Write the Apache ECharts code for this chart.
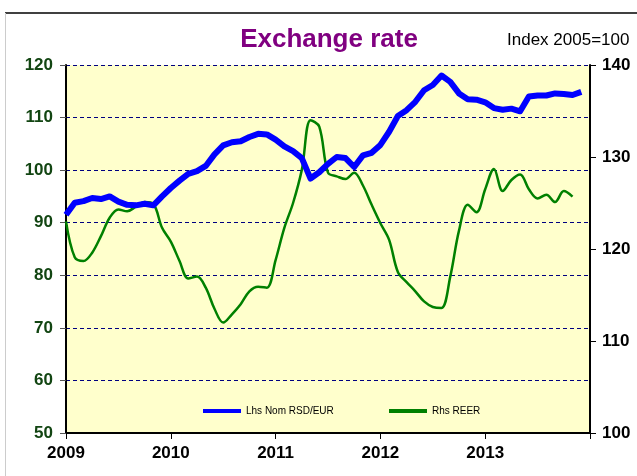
<!DOCTYPE html>
<html>
<head>
<meta charset="utf-8">
<script src="https://cdn.jsdelivr.net/npm/echarts@6/dist/echarts.min.js"></script>
<style>
html,body{margin:0;padding:0;background:#fff;}
#c{width:637px;height:476px;}
</style>
</head>
<body>
<div id="c"></div>
<script>
// Monthly observations, Jan 2009 onwards
const startYear = 2009;
const yearTicks = ['2009', '2010', '2011', '2012', '2013'];
const nomRsdEur = [91.5, 93.8, 94.1, 94.7, 94.5, 95.0, 94.0, 93.4, 93.3, 93.6, 93.3, 95.0,
  96.6, 98.0, 99.3, 99.8, 100.8, 103.0, 104.7, 105.3, 105.5, 106.3, 106.9, 106.8,
  105.8, 104.5, 103.6, 102.3, 98.4, 99.6, 101.2, 102.5, 102.3, 100.6, 102.8, 103.3,
  104.8, 107.3, 110.3, 111.4, 113.0, 115.2, 116.2, 118.0, 116.8, 114.6, 113.5, 113.4,
  112.9, 111.8, 111.5, 111.7, 111.2, 114.0, 114.2, 114.2, 114.6, 114.5, 114.3, 114.9];
const reer = [123.0, 119.1, 118.7, 119.6, 121.4, 123.4, 124.3, 124.1, 124.6, 125.1, 124.9, 122.3,
  120.8, 118.7, 116.8, 117.0, 115.8, 113.5, 112.0, 112.9, 114.0, 115.4, 115.9, 115.8,
  118.8, 122.3, 125.0, 128.6, 134.0, 133.3, 128.3, 127.9, 127.6, 128.3, 126.9, 124.8,
  122.8, 121.0, 117.5, 116.4, 115.4, 114.3, 113.7, 113.6, 117.0, 122.0, 124.8, 124.0,
  126.5, 128.7, 126.3, 127.5, 128.1, 126.5, 125.5, 125.9, 125.1, 126.3, 125.7];

const toPts = arr => arr.map((v, i) => [startYear + i / 12, v]);

const chart = echarts.init(document.getElementById('c'), null, {renderer: 'canvas'});
const font = 'Liberation Sans, Arial, sans-serif';
chart.setOption({
  animation: false,
  backgroundColor: '#ffffff',
  textStyle: {fontFamily: font},
  title: [
    {text: 'Exchange rate', left: 324, top: 22, textAlign: 'center',
     textStyle: {fontFamily: font, fontSize: 26, fontWeight: 'bold', color: '#800080'}},
    {text: 'Index 2005=100', left: 502, top: 27,
     textStyle: {fontFamily: font, fontSize: 17, fontWeight: 'normal', color: '#000'}}
  ],
  graphic: [
    {type: 'line', shape: {x1: 5, y1: 13, x2: 637, y2: 13}, style: {stroke: '#000', lineWidth: 1.5}, silent: true},
    {type: 'line', shape: {x1: 5.5, y1: 13, x2: 5.5, y2: 476}, style: {stroke: '#cccccc', lineWidth: 1}, silent: true}
  ],
  legend: [
    {data: [{name: 'Lhs Nom RSD/EUR', icon: 'rect'}], left: 198, top: 401, itemWidth: 38, itemHeight: 4, itemGap: 4,
     textStyle: {fontFamily: font, fontSize: 10, color: '#000'}, selectedMode: false},
    {data: [{name: 'Rhs REER', icon: 'rect'}], left: 384, top: 401, itemWidth: 38, itemHeight: 4, itemGap: 4,
     textStyle: {fontFamily: font, fontSize: 10, color: '#000'}, selectedMode: false}
  ],
  grid: {left: 66, right: 47, top: 65, bottom: 43, show: true, backgroundColor: '#FFFFCC', borderWidth: 0},
  xAxis: {
    type: 'value', min: 2009, max: 2014, interval: 1,
    axisLine: {lineStyle: {color: '#000', width: 2}},
    axisTick: {show: true, length: 6, lineStyle: {color: '#000', width: 1}},
    axisLabel: {margin: 12, fontSize: 17, fontWeight: 'bold', color: '#000', fontFamily: font,
      formatter: v => { const s = String(Math.round(v)); return yearTicks.indexOf(s) >= 0 ? s : ''; }},
    splitLine: {show: false}
  },
  yAxis: [
    {type: 'value', min: 50, max: 120, interval: 10, position: 'left',
     axisLine: {show: true, lineStyle: {color: '#000', width: 2}},
     axisTick: {show: true, length: 6, lineStyle: {color: '#555', width: 1}},
     axisLabel: {margin: 13, fontSize: 17, fontWeight: 'bold', color: '#124512', fontFamily: font},
     splitLine: {show: true, lineStyle: {color: '#000080', type: [4, 3], width: 1}}},
    {type: 'value', min: 100, max: 140, interval: 10, position: 'right',
     axisLine: {show: true, lineStyle: {color: '#000', width: 2}},
     axisTick: {show: true, length: 6, lineStyle: {color: '#000', width: 1}},
     axisLabel: {margin: 12, fontSize: 17, fontWeight: 'bold', color: '#000', fontFamily: font},
     splitLine: {show: false}}
  ],
  series: [
    {name: 'Lhs Nom RSD/EUR', type: 'line', yAxisIndex: 0, data: toPts(nomRsdEur), showSymbol: false,
     color: '#0000FF', lineStyle: {color: '#0000FF', width: 6, join: 'round'}, z: 3},
    {name: 'Rhs REER', type: 'line', yAxisIndex: 1, data: toPts(reer), showSymbol: false, smooth: 0.35,
     color: '#008000', lineStyle: {color: '#008000', width: 2.5}, z: 2}
  ]
});
</script>
</body>
</html>
